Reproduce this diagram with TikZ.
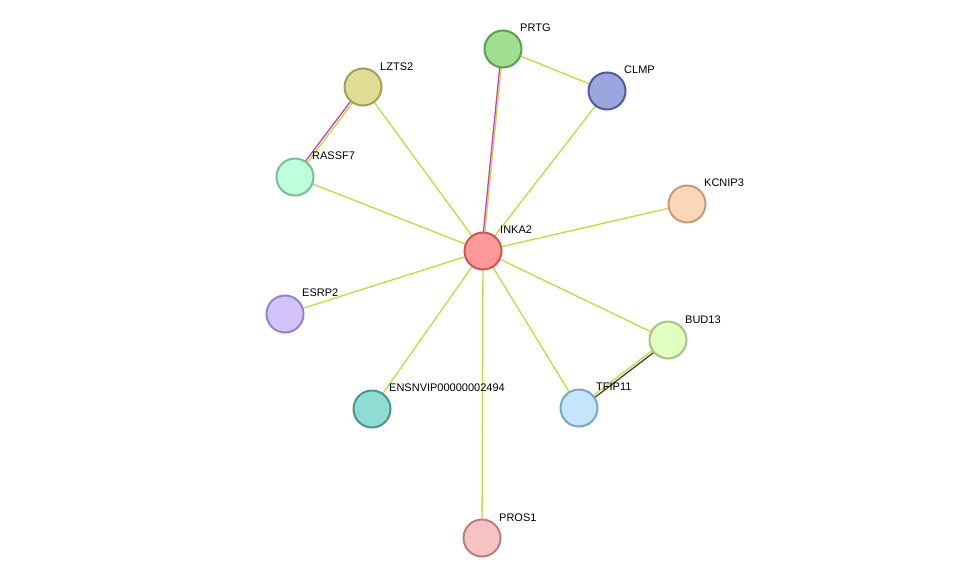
\documentclass[tikz,border=0pt]{standalone}
\usepackage{fontspec}
\setmainfont{Liberation Sans}
\definecolor{txtline}{HTML}{C2DB3E}
\definecolor{magline}{HTML}{C83FC8}
\begin{document}
\begin{tikzpicture}[x=1pt,y=-1pt,
  prot/.style={circle, draw, line width=2pt, minimum size=37pt, inner sep=0pt},
  lbl/.style={font=\fontsize{11}{13}\selectfont, anchor=south west, inner sep=1pt},
  txt/.style={draw=txtline, line width=1.3pt},
  mag/.style={draw=magline, line width=1.3pt}]
\useasboundingbox (0,0) rectangle (976,584);
% Edges first (under the nodes)
\coordinate (inka) at (483,251);
\coordinate (prtg) at (503,49);
\coordinate (clmp) at (607,91);
\coordinate (lzts) at (363,87);
\coordinate (rass) at (295,177);
\coordinate (kcni) at (687,204);
\coordinate (esrp) at (285,314);
\coordinate (bud) at (668,340);
\coordinate (tfip) at (579,408);
\coordinate (ensn) at (372,409);
\coordinate (pros) at (482,538);

\foreach \n in {prtg,clmp,lzts,rass,kcni,esrp,bud,tfip,ensn,pros}
  \draw[txt] (inka) -- (\n);
\draw[mag] ([xshift=-1.5pt]inka) -- ([xshift=-1.5pt]prtg);
\draw[txt] (prtg) -- (clmp);
\draw[mag] ([xshift=-1.5pt]lzts) -- ([xshift=-1.5pt]rass);
\draw[txt] ([xshift=1.5pt]lzts) -- ([xshift=1.5pt]rass);
\draw[draw=black!75, line width=1.3pt] ([yshift=-1.5pt]bud) -- ([yshift=-1.5pt]tfip);
\draw[txt] ([yshift=1.5pt]bud) -- ([yshift=1.5pt]tfip);

% Proteins
\node[prot, fill={rgb,255:red,255;green,153;blue,153}, draw={rgb,255:red,204;green,85;blue,85}] (INKA2) at (inka) {};
\node[prot, fill={rgb,255:red,160;green,222;blue,145}, draw={rgb,255:red,90;green,160;blue,80}] (PRTG) at (prtg) {};
\node[prot, fill={rgb,255:red,155;green,165;blue,222}, draw={rgb,255:red,80;green,90;blue,160}] (CLMP) at (clmp) {};
\node[prot, fill={rgb,255:red,224;green,222;blue,150}, draw={rgb,255:red,160;green,160;blue,90}] (LZTS2) at (lzts) {};
\node[prot, fill={rgb,255:red,190;green,255;blue,220}, draw={rgb,255:red,120;green,190;blue,150}] (RASSF7) at (rass) {};
\node[prot, fill={rgb,255:red,250;green,215;blue,185}, draw={rgb,255:red,200;green,155;blue,120}] (KCNIP3) at (kcni) {};
\node[prot, fill={rgb,255:red,210;green,195;blue,250}, draw={rgb,255:red,150;green,130;blue,200}] (ESRP2) at (esrp) {};
\node[prot, fill={rgb,255:red,225;green,255;blue,190}, draw={rgb,255:red,165;green,195;blue,130}] (BUD13) at (bud) {};
\node[prot, fill={rgb,255:red,195;green,230;blue,252}, draw={rgb,255:red,125;green,165;blue,195}] (TFIP11) at (tfip) {};
\node[prot, fill={rgb,255:red,145;green,220;blue,210}, draw={rgb,255:red,75;green,150;blue,140}] (ENSN) at (ensn) {};
\node[prot, fill={rgb,255:red,245;green,195;blue,195}, draw={rgb,255:red,190;green,125;blue,125}] (PROS1) at (pros) {};

% Labels
\node[lbl] at (499,235) {INKA2};
\node[lbl] at (519,33) {PRTG};
\node[lbl] at (623,75) {CLMP};
\node[lbl] at (379,72) {LZTS2};
\node[lbl] at (311,161) {RASSF7};
\node[lbl] at (703,188) {KCNIP3};
\node[lbl] at (301,298) {ESRP2};
\node[lbl] at (684,325) {BUD13};
\node[lbl] at (595,392) {TFIP11};
\node[lbl] at (388,393) {ENSNVIP00000002494};
\node[lbl] at (498,523) {PROS1};
\end{tikzpicture}
\end{document}
